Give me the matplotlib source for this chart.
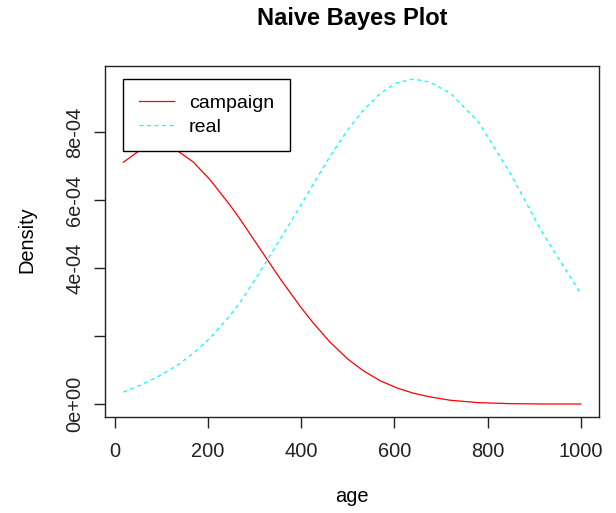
import matplotlib
matplotlib.use('Agg')
import matplotlib.pyplot as plt

# valores (densidade em 1e-4)
age = [18, 55, 93, 132, 168, 204, 247, 268, 300, 326, 358, 400, 426,
       461, 500, 533, 570, 604, 640, 676, 720, 780, 850, 920, 1000]
campaign = [7.11, 7.48, 7.61, 7.47, 7.12, 6.60, 5.85, 5.45, 4.80, 4.27, 3.62, 2.83, 2.38,
            1.83, 1.32, 0.98, 0.68, 0.48, 0.32, 0.21, 0.11, 0.04, 0.01, 0.0, 0.0]
real = [0.35, 0.56, 0.81, 1.12, 1.49, 1.94, 2.60, 2.98, 3.64, 4.21, 4.92, 5.87, 6.47,
        7.27, 8.07, 8.64, 9.14, 9.44, 9.56, 9.47, 9.14, 8.30, 6.75, 4.98, 3.25]

y_ticks = [0, 2e-4, 4e-4, 6e-4, 8e-4]
y_labels = ['0e+00', '', '4e-04', '6e-04', '8e-04']
x_ticks = [0, 200, 400, 600, 800, 1000]

plt.rcParams['font.family'] = ['Liberation Sans', 'DejaVu Sans']

fig = plt.figure(figsize=(6.16, 5.13), dpi=100)
ax = fig.add_axes([105/616, 1 - 417/513, 494/616, 351/513])

ax.plot(age, [v * 1e-4 for v in campaign], color='red', lw=0.9, label='campaign')
ax.plot(age, [v * 1e-4 for v in real], color='cyan', lw=0.9,
        linestyle=(0, (3, 3)), label='real')

ax.margins(x=0.04, y=0.04)
ax.set_xticks(x_ticks)
ax.set_yticks(y_ticks)
ax.set_yticklabels(y_labels, rotation=90, va='center')
ax.tick_params(axis='both', direction='out', length=8, width=1,
               labelsize=14.4, colors='#222222')
ax.tick_params(axis='x', pad=10)
ax.tick_params(axis='y', pad=7)
for s in ax.spines.values():
    s.set_color('#222222')
    s.set_linewidth(1)

fig.text(352/616, 1 - 18/513, 'Naive Bayes Plot', ha='center', va='center',
         fontsize=17, fontweight='bold')
fig.text(352/616, 1 - 497/513, 'age', ha='center', va='center', fontsize=14.4)
fig.text(27/616, 1 - 240/513, 'Density', ha='center', va='center',
         rotation=90, fontsize=14.4)

leg = ax.legend(loc='upper left', fontsize=14, frameon=True, fancybox=False,
                framealpha=1, edgecolor='black', borderpad=0.8, handlelength=1.8,
                handletextpad=0.8, labelspacing=0.3, borderaxespad=0)
leg.get_frame().set_linewidth(1)
# canto superior esquerdo do quadro da legenda
leg.set_bbox_to_anchor(((123 - 105)/494, 1 - (79 - 66)/351), transform=ax.transAxes)

fig.savefig('out.png', dpi=100)
